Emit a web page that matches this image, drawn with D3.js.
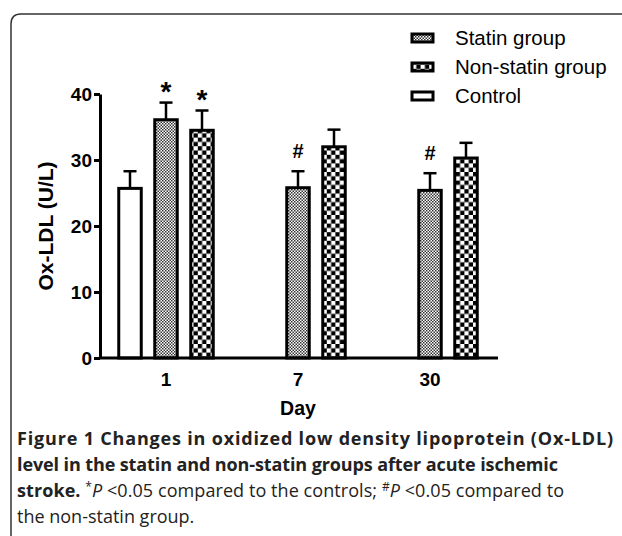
<!DOCTYPE html>
<html>
<head>
<meta charset="utf-8">
<script src="https://cdn.jsdelivr.net/npm/d3@7"></script>
<style>
  body { margin: 0; background: #fff; }
  svg { display: block; }
</style>
</head>
<body>
<svg id="chart"></svg>
<script>
// chart data
const days = ["1", "7", "30"];
const groups = ["Control", "Statin group", "Non-statin group"];
const controlMean = [25.7, null, null];
const statinMean = [36.1, 25.8, 25.4];
const nonStatinMean = [34.5, 32.0, 30.3];
const controlSem = [2.6, null, null];
const statinSem = [2.6, 2.5, 2.6];
const nonStatinSem = [3.0, 2.6, 2.3];
const statinMark = ["*", "#", "#"];
const nonStatinMark = ["*", "", ""];
const yTicks = [0, 10, 20, 30, 40];
const legendOrder = ["Statin group", "Non-statin group", "Control"];

const width = 622, height = 536;
const svg = d3.select("#chart").attr("width", width).attr("height", height);

// patterns for the bar fills
const defs = svg.append("defs");
const fine = defs.append("pattern").attr("id", "fine")
    .attr("patternUnits", "userSpaceOnUse").attr("width", 3).attr("height", 3);
fine.append("rect").attr("width", 3).attr("height", 3).attr("fill", "#fff");
fine.append("rect").attr("width", 1.5).attr("height", 1.5).attr("fill", "#333");
fine.append("rect").attr("x", 1.5).attr("y", 1.5).attr("width", 1.5).attr("height", 1.5).attr("fill", "#333");

const coarse = defs.append("pattern").attr("id", "coarse")
    .attr("patternUnits", "userSpaceOnUse").attr("width", 8.6).attr("height", 8.6);
coarse.append("rect").attr("width", 8.6).attr("height", 8.6).attr("fill", "#fff");
coarse.append("rect").attr("width", 4.3).attr("height", 4.3).attr("fill", "#000");
coarse.append("rect").attr("x", 4.3).attr("y", 4.3).attr("width", 4.3).attr("height", 4.3).attr("fill", "#000");

const fills = { "Control": "#fff", "Statin group": "url(#fine)", "Non-statin group": "url(#coarse)" };

// outer frame (rounded, runs off the right and bottom)
svg.append("path")
    .attr("d", "M11,540 L11,24 Q11,14 21,14 L630,14")
    .attr("fill", "none").attr("stroke", "#333").attr("stroke-width", 1.5);

// scales
const y = d3.scaleLinear().domain([0, 40]).range([358, 94]);
const x0 = d3.scaleBand().domain(days).range([100, 496]);
const x1 = d3.scaleBand().domain(groups).range([12, 120]).paddingInner(0.375).paddingOuter(0.1875);

const fontAxis = "Arial, 'Liberation Sans', sans-serif";

// build rows
const rows = [];
days.forEach((d, i) => {
    [[groups[0], controlMean, controlSem, null],
     [groups[1], statinMean, statinSem, statinMark],
     [groups[2], nonStatinMean, nonStatinSem, nonStatinMark]].forEach(([g, m, s, mk]) => {
        if (m[i] != null) rows.push({ day: d, group: g, mean: m[i], sem: s[i], mark: mk ? mk[i] : "" });
    });
});

const plot = svg.append("g");

// error bars (upper only)
const cx = r => x0(r.day) + x1(r.group) + x1.bandwidth() / 2;
plot.selectAll(".err").data(rows).join("line")
    .attr("x1", cx).attr("x2", cx)
    .attr("y1", r => y(r.mean)).attr("y2", r => y(r.mean + r.sem))
    .attr("stroke", "#000").attr("stroke-width", 2.5);
plot.selectAll(".cap").data(rows).join("line")
    .attr("x1", r => cx(r) - 6.5).attr("x2", r => cx(r) + 6.5)
    .attr("y1", r => y(r.mean + r.sem)).attr("y2", r => y(r.mean + r.sem))
    .attr("stroke", "#000").attr("stroke-width", 2.5);

// bars
plot.selectAll(".bar").data(rows).join("rect")
    .attr("x", r => x0(r.day) + x1(r.group))
    .attr("width", x1.bandwidth())
    .attr("y", r => y(r.mean))
    .attr("height", r => y(0) - y(r.mean))
    .attr("fill", r => fills[r.group])
    .attr("stroke", "#000").attr("stroke-width", 3);

// significance marks
plot.selectAll(".mark").data(rows.filter(r => r.mark)).join("text")
    .attr("x", cx)
    .attr("y", r => y(r.mean + r.sem) - (r.mark === "*" ? 2 : 13))
    .attr("text-anchor", "middle")
    .attr("font-family", fontAxis).attr("font-weight", "bold")
    .attr("font-size", r => r.mark === "*" ? 28 : 20)
    .text(r => r.mark);

// axes
const yAxis = svg.append("g").attr("transform", "translate(100,0)")
    .call(d3.axisLeft(y).tickValues(yTicks).tickSize(6).tickPadding(2).tickSizeOuter(0));
const xAxis = svg.append("g").attr("transform", `translate(0,${y(0)})`)
    .call(d3.axisBottom(x0).tickSize(0).tickPadding(15).tickSizeOuter(0));
xAxis.select(".domain").attr("d", "M100,0H498");
[yAxis, xAxis].forEach(a => {
    a.select(".domain").attr("stroke", "#000").attr("stroke-width", 3);
    a.selectAll(".tick line").attr("stroke", "#000").attr("stroke-width", 3);
    a.selectAll("text").attr("font-family", fontAxis).attr("font-weight", "bold")
        .attr("font-size", 19).attr("fill", "#000");
});

// axis titles
svg.append("text")
    .attr("transform", `translate(53,${(y(0) + y(40)) / 2}) rotate(-90)`)
    .attr("text-anchor", "middle")
    .attr("font-family", fontAxis).attr("font-weight", "bold").attr("font-size", 21)
    .text("Ox-LDL (U/L)");
svg.append("text")
    .attr("x", 298).attr("y", 415)
    .attr("text-anchor", "middle")
    .attr("font-family", fontAxis).attr("font-weight", "bold").attr("font-size", 19.5)
    .text("Day");

// legend
const legend = svg.append("g").attr("transform", "translate(412,0)");
legendOrder.forEach((g, i) => {
    const cy = 38 + i * 29;
    legend.append("rect")
        .attr("x", 0).attr("y", cy - 4).attr("width", 21).attr("height", 8)
        .attr("fill", fills[g]).attr("stroke", "#000").attr("stroke-width", 3);
    legend.append("text")
        .attr("x", 43).attr("y", cy + 7)
        .attr("font-family", fontAxis).attr("font-size", 20.5)
        .text(g);
});

// caption
const capFont = "'Open Sans', sans-serif";
const cap = svg.append("text").attr("font-family", capFont).attr("font-size", 18).attr("fill", "#222");
cap.append("tspan").attr("x", 17).attr("y", 445).attr("font-weight", "bold")
    .attr("textLength", 596).attr("lengthAdjust", "spacing")
    .text("Figure 1 Changes in oxidized low density lipoprotein (Ox-LDL)");
cap.append("tspan").attr("x", 17).attr("y", 471).attr("font-weight", "bold")
    .attr("textLength", 541).attr("lengthAdjust", "spacing")
    .text("level in the statin and non-statin groups after acute ischemic");
const cap3 = svg.append("text").attr("font-family", capFont).attr("font-size", 18).attr("fill", "#222")
    .attr("x", 17).attr("y", 497).attr("textLength", 547).attr("lengthAdjust", "spacing");
cap3.append("tspan").attr("font-weight", "bold").text("stroke. ");
cap3.append("tspan").attr("font-size", 12).attr("dy", -6).text("*");
cap3.append("tspan").attr("font-style", "italic").attr("dy", 6).text("P");
cap3.append("tspan").text(" <0.05 compared to the controls; ");
cap3.append("tspan").attr("font-size", 12).attr("dy", -6).text("#");
cap3.append("tspan").attr("font-style", "italic").attr("dy", 6).text("P");
cap3.append("tspan").text(" <0.05 compared to");
svg.append("text").attr("font-family", capFont).attr("font-size", 18).attr("fill", "#222")
    .attr("x", 17).attr("y", 523).text("the non-statin group.");
</script>
</body>
</html>
